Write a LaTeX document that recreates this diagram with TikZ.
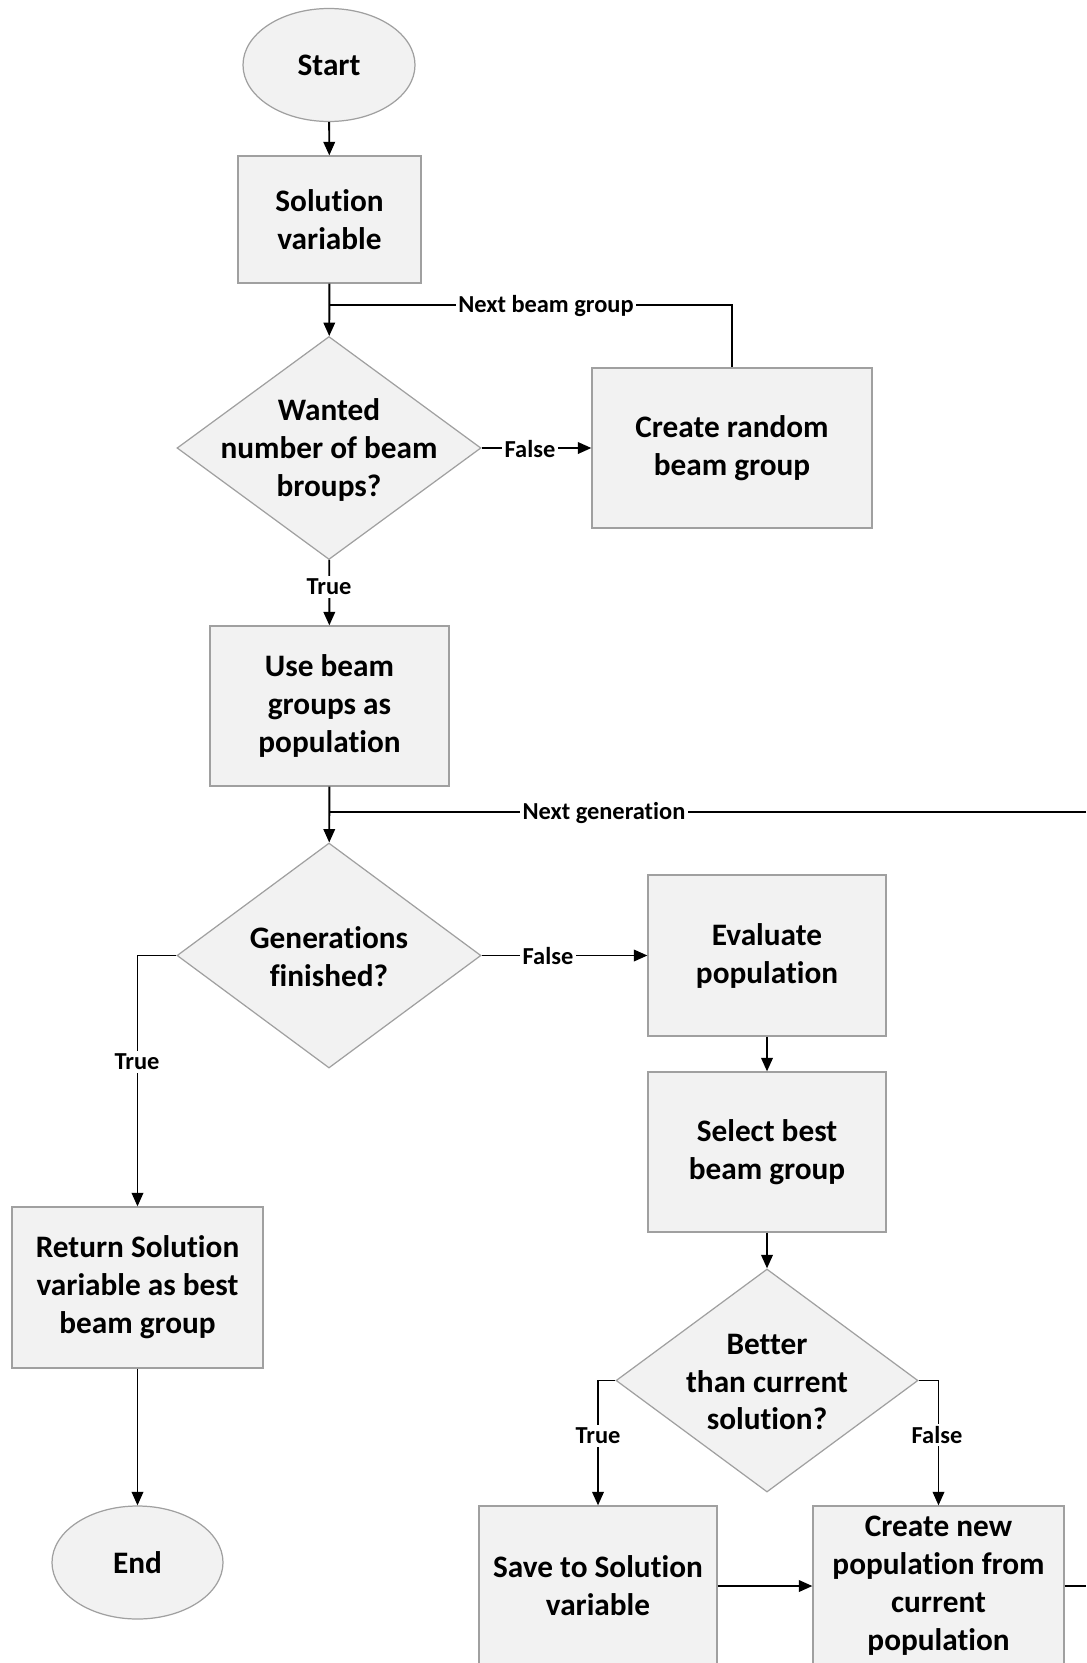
\documentclass[tikz,border=0pt]{standalone}
\usepackage{fontspec}
\setmainfont[Ligatures=NoCommon]{Carlito}
\usetikzlibrary{calc,positioning,shapes.geometric,arrows.meta}
\newcommand{\Px}{0.02cm}
\definecolor{boxfill}{HTML}{F2F2F2}
\definecolor{boxline}{HTML}{A0A0A0}
\tikzset{Box/.style={
    rectangle,
    inner sep=0pt,
    draw=boxline,
    line width=0.7pt,
    fill=boxfill,
    align=center,
    font=\fontsize{17.8}{21.6}\selectfont\bfseries,
    }
}
\tikzset{Terminal/.style={
    Box,
    ellipse,
    minimum width=172*\Px,
    minimum height=113*\Px,
    }
}
\tikzset{Decision/.style={
    Box,
    diamond,
    minimum width=304*\Px,
    minimum height=223*\Px,
    }
}

\begin{document}
\begin{tikzpicture}[x=\Px, y=-\Px,
    DecText/.style={align=center, inner sep=0pt,
    font=\fontsize{17.8}{21.6}\selectfont\bfseries},
    Lbl/.style={fill=white, inner sep=1.5pt,
    font=\fontsize{13.9}{16}\selectfont\bfseries},
    Wire/.style={line width=1.1pt},
    Arrow/.style={Wire, -{Triangle[length=0.27cm,width=0.23cm]}},
]
\useasboundingbox (0,0) rectangle (1086,1663);
% main column
\node [Terminal] (start) at (329,65) {Start};
\node [Box, minimum width=183*\Px, minimum height=127*\Px] (sol) at (329.5,219.5) {Solution\\variable};
\node [Decision] (want) at (329,448) {};
\node [DecText] (wanttxt) at (329,450) {Wanted\\number of beam\\broups?};
\node [Box, minimum width=280*\Px, minimum height=160*\Px] (rand) at (732,448) {Create random\\beam group};
\node [Box, minimum width=239*\Px, minimum height=160*\Px] (use) at (329.5,706) {Use beam\\groups as\\population};
\node [Decision, minimum height=225*\Px] (gen) at (329,955.5) {};
\node [DecText] (gentxt) at (329,957) {Generations\\finished?};
% left branch
\node [Box, minimum width=251*\Px, minimum height=161*\Px] (ret) at (137.5,1287.5) {Return Solution\\variable as best\\beam group};
\node [Terminal, minimum width=171*\Px] (finish) at (137.5,1562.5) {End};
% right branch
\node [Box, minimum width=238*\Px, minimum height=161*\Px] (eval) at (767,955.5) {Evaluate\\population};
\node [Box, minimum width=238*\Px, minimum height=160*\Px] (sel) at (767,1152) {Select best\\beam group};
\node [Decision, minimum width=302*\Px] (better) at (767,1380.5) {};
\node [DecText] (bettertxt) at (767,1382) {Better\\than current\\solution?};
\node [Box, minimum width=238*\Px, minimum height=160*\Px] (save) at (598,1586) {Save to Solution\\variable};
\node [Box, minimum width=251*\Px, minimum height=160*\Px] (new) at (938.5,1586) {Create new\\population from\\current\\population};

\coordinate (j1) at (329,305);
\coordinate (j2) at (329,812);
\coordinate (edgeA) at (1086,812);
\coordinate (edgeB) at (1086,1586);

% connectors
\draw [Arrow] (start) -- (sol);
\draw [Arrow] (sol) -- (want);
\draw [Wire] (rand.north) |- (j1);
\draw [Arrow] (want) -- (rand);
\draw [Arrow] (want) -- (use);
\draw [Arrow] (use) -- (gen);
\draw [Wire] (edgeA) -- (j2);
\draw [Arrow] (gen) -- (eval);
\draw [Arrow] (gen.west) -| (ret.north);
\draw [Arrow] (ret) -- (finish);
\draw [Arrow] (eval) -- (sel);
\draw [Arrow] (sel) -- (better);
\draw [Arrow] (better.west) -| (save.north);
\draw [Arrow] (better.east) -| (new.north);
\draw [Arrow] (save) -- (new);
\draw [Wire] (new) -- (edgeB);

% labels on the lines
\node [Lbl] (nextbeam) at (546,306) {Next beam group};
\node [Lbl] (false1) at (530,449) {False};
\node [Lbl] (true1) at (329,587) {True};
\node [Lbl] (nextgen) at (604,813) {Next generation};
\node [Lbl] (false2) at (548,956) {False};
\node [Lbl] (true2) at (137,1062) {True};
\node [Lbl] (true3) at (598,1436) {True};
\node [Lbl] (false3) at (937,1435) {False};
\end{tikzpicture}
\end{document}
